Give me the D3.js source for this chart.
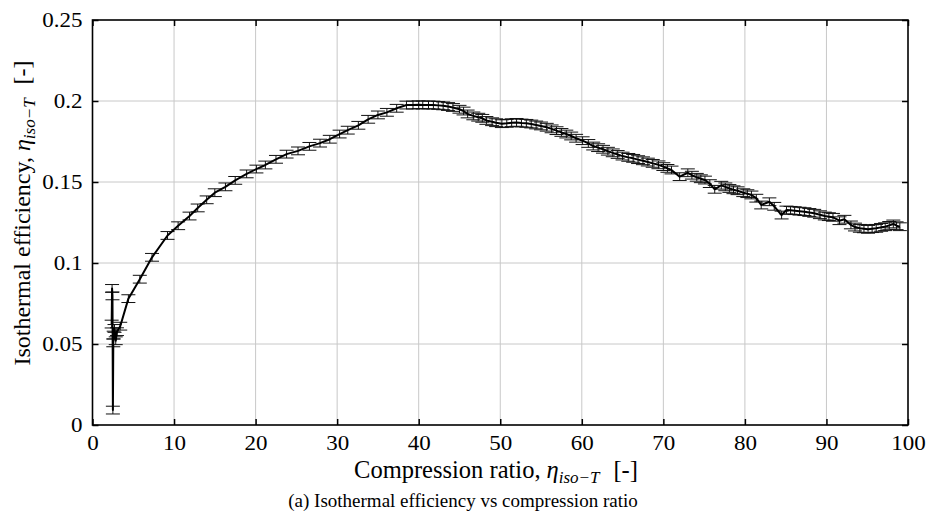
<!DOCTYPE html>
<html>
<head>
<meta charset="utf-8">
<script src="https://cdn.jsdelivr.net/npm/d3@7"></script>
<style>
  html, body { margin: 0; padding: 0; background: #fff; }
  svg text { fill: #000; }
</style>
</head>
<body>
<div id="chart"></div>
<script>
// Isothermal efficiency vs compression ratio, with error bars.
const compressionRatio = [
  2.35, 2.4, 2.45, 2.5, 2.55, 2.6, 2.7, 2.85, 3.0, 3.4,
  4.4, 5.8, 7.3, 9.2, 10.5, 11.9, 12.9, 14.0, 15.0, 16.3,
  17.5, 18.9, 20.1, 21.2, 22.5, 23.8, 25.2, 26.6, 27.9, 29.1,
  30.3, 31.3, 32.6, 33.8, 35.0, 36.1, 37.3, 38.5, 39.3, 40.0,
  40.5, 41.2, 41.8, 42.4, 43.0, 43.6, 44.2, 45.0, 45.5, 46.0,
  46.7, 47.3, 47.8, 48.3, 49.0, 49.5, 50.2, 50.8, 51.4, 52.0,
  52.6, 53.2, 53.8, 54.4, 55.0, 55.7, 56.3, 56.9, 57.5, 58.1,
  58.7, 59.3, 60.1, 60.8, 61.4, 62.0, 62.6, 63.2, 63.8, 64.4,
  65.0, 65.7, 66.3, 66.9, 67.5, 68.1, 68.7, 69.4, 70.0, 70.5,
  71.0, 72.0, 73.0, 73.5, 74.1, 74.6, 75.1, 75.7, 76.3, 77.1,
  77.6, 78.1, 78.6, 79.1, 79.8, 80.3, 80.8, 81.4, 82.0, 83.0,
  83.6, 84.5, 85.1, 85.6, 86.1, 86.7, 87.3, 87.9, 88.5, 89.2,
  89.8, 90.3, 90.8, 91.6, 92.2, 93.0, 93.5, 94.1, 94.6, 95.1,
  95.6, 96.1, 96.7, 97.2, 97.7, 98.2, 98.6, 99.0
];
const isoEfficiency = [
  0.0623, 0.0843, 0.0797, 0.0092, 0.0507, 0.0555, 0.0596, 0.0520, 0.0576, 0.0610,
  0.0780, 0.0900, 0.1035, 0.1170, 0.1230, 0.1290, 0.1340, 0.1390, 0.1434, 0.1470,
  0.1510, 0.1550, 0.1580, 0.1605, 0.1640, 0.1672, 0.1692, 0.1720, 0.1740, 0.1764,
  0.1796, 0.1820, 0.1850, 0.1887, 0.1914, 0.1930, 0.1955, 0.1975, 0.1975, 0.1977,
  0.1975, 0.1976, 0.1975, 0.1973, 0.1970, 0.1966, 0.1960, 0.1949, 0.1938, 0.1920,
  0.1908, 0.1900, 0.1893, 0.1880, 0.1872, 0.1866, 0.1860, 0.1862, 0.1866, 0.1868,
  0.1864, 0.1862, 0.1858, 0.1852, 0.1846, 0.1838, 0.1828, 0.1817, 0.1806, 0.1796,
  0.1784, 0.1770, 0.1755, 0.1738, 0.1722, 0.1712, 0.1702, 0.1690, 0.1680, 0.1670,
  0.1660, 0.1652, 0.1646, 0.1638, 0.1631, 0.1623, 0.1615, 0.1606, 0.1595, 0.1584,
  0.1574, 0.1533, 0.1557, 0.1542, 0.1529, 0.1520, 0.1512, 0.1490, 0.1455, 0.1480,
  0.1470, 0.1460, 0.1452, 0.1446, 0.1434, 0.1428, 0.1420, 0.1400, 0.1358, 0.1378,
  0.1350, 0.1296, 0.1327, 0.1325, 0.1323, 0.1320, 0.1317, 0.1312, 0.1307, 0.1298,
  0.1290, 0.1286, 0.1282, 0.1261, 0.1270, 0.1235, 0.1222, 0.1214, 0.1211, 0.1208,
  0.1212, 0.1214, 0.1220, 0.1224, 0.1232, 0.1241, 0.1230, 0.1224
];
const errHalf = 0.0024;
const xTicks = [0, 10, 20, 30, 40, 50, 60, 70, 80, 90, 100];
const yTicks = [0, 0.05, 0.1, 0.15, 0.2, 0.25];
const yTickLabels = ['0', '0.05', '0.1', '0.15', '0.2', '0.25'];

const points = compressionRatio.map((x, i) => ({ x, y: isoEfficiency[i] }));

const width = 926, height = 522;
const m = { top: 20, right: 18, bottom: 97, left: 92.5 };
const iw = width - m.left - m.right;
const ih = height - m.top - m.bottom;
const serif = '"Liberation Serif", "DejaVu Serif", serif';

const svg = d3.select('#chart').append('svg')
  .attr('width', width).attr('height', height)
  .attr('viewBox', `0 0 ${width} ${height}`);
const g = svg.append('g').attr('transform', `translate(${m.left},${m.top})`);

const x = d3.scaleLinear().domain([0, 100]).range([0, iw]);
const y = d3.scaleLinear().domain([0, 0.25]).range([ih, 0]);

// grid
g.append('g').selectAll('line').data(xTicks.slice(1, -1)).join('line')
  .attr('x1', d => x(d)).attr('x2', d => x(d)).attr('y1', 0).attr('y2', ih)
  .attr('stroke', '#c8c8c8').attr('stroke-width', 1);
g.append('g').selectAll('line').data(yTicks.slice(1, -1)).join('line')
  .attr('y1', d => y(d)).attr('y2', d => y(d)).attr('x1', 0).attr('x2', iw)
  .attr('stroke', '#c8c8c8').attr('stroke-width', 1);

// error bars
const capW = 7;
const eb = g.append('g').attr('stroke', '#111').attr('stroke-width', 1);
points.forEach(p => {
  const px = x(p.x), y0 = y(p.y - errHalf), y1 = y(p.y + errHalf);
  eb.append('line').attr('x1', px).attr('x2', px).attr('y1', y0).attr('y2', y1);
  eb.append('line').attr('x1', px - capW).attr('x2', px + capW).attr('y1', y0).attr('y2', y0);
  eb.append('line').attr('x1', px - capW).attr('x2', px + capW).attr('y1', y1).attr('y2', y1);
});

// main line
g.append('path')
  .attr('d', d3.line().x(d => x(d.x)).y(d => y(d.y))(points))
  .attr('fill', 'none').attr('stroke', '#000').attr('stroke-width', 2)
  .attr('stroke-linejoin', 'round');

// axes with inward ticks
const tick = 6;
const xb = g.append('g').attr('transform', `translate(0,${ih})`)
  .call(d3.axisBottom(x).tickValues(xTicks).tickSizeInner(-tick).tickSizeOuter(0).tickPadding(11).tickFormat(d3.format('d')));
const xt = g.append('g')
  .call(d3.axisTop(x).tickValues(xTicks).tickSizeInner(-tick).tickSizeOuter(0).tickFormat(''));
const yl = g.append('g')
  .call(d3.axisLeft(y).tickValues(yTicks).tickSizeInner(-tick).tickSizeOuter(0).tickPadding(10)
    .tickFormat((d, i) => yTickLabels[i]));
const yr = g.append('g').attr('transform', `translate(${iw},0)`)
  .call(d3.axisRight(y).tickValues(yTicks).tickSizeInner(-tick).tickSizeOuter(0).tickFormat(''));
[xb, xt, yl, yr].forEach(a => {
  a.attr('font-family', serif).attr('font-size', 20);
  a.select('.domain').remove();
  a.selectAll('line').attr('stroke', '#000').attr('stroke-width', 1.5);
  a.selectAll('text').attr('fill', '#000');
});
// the reference type is a little wider than Times: stretch tick labels about their anchor
[xb, yl].forEach(a => a.selectAll('text').each(function () {
  const t = d3.select(this);
  const tx = +t.attr('x') || 0;
  t.attr('x', 0).attr('transform', `translate(${tx},0) scale(1.15,1)`);
}));

// frame
g.append('rect').attr('width', iw).attr('height', ih)
  .attr('fill', 'none').attr('stroke', '#000').attr('stroke-width', 1.6);

// axis labels
function mathLabel(sel, before) {
  sel.append('tspan').text(before);
  sel.append('tspan').attr('font-style', 'italic').attr('dx', 6).text('η');
  sel.append('tspan').attr('font-style', 'italic').attr('font-size', 17).attr('dy', 5).text('iso−T');
  sel.append('tspan').attr('dy', -5).attr('dx', 14).text('[-]');
}
const xLab = svg.append('text')
  .attr('x', 496).attr('y', m.top + ih + 53)
  .attr('font-family', serif)
  .attr('text-anchor', 'middle').attr('font-size', 24.5);
mathLabel(xLab, 'Compression ratio,');

const yLab = svg.append('text')
  .attr('transform', `translate(30,213) rotate(-90)`)
  .attr('font-family', serif)
  .attr('text-anchor', 'middle').attr('font-size', 24);
mathLabel(yLab, 'Isothermal efficiency,');

svg.append('text')
  .attr('x', width / 2).attr('y', 507)
  .attr('font-family', serif)
  .attr('text-anchor', 'middle').attr('font-size', 19)
  .text('(a) Isothermal efficiency vs compression ratio');
</script>
</body>
</html>
